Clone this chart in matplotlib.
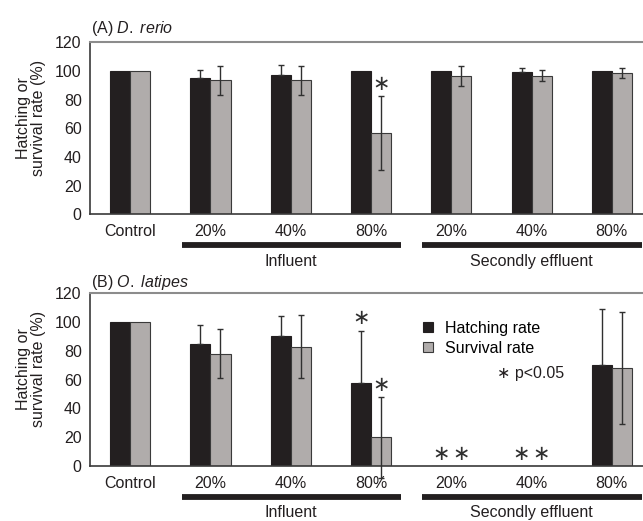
import matplotlib.pyplot as plt
import matplotlib.transforms as mtransforms
import numpy as np

plt.rcParams['font.family'] = ['Liberation Sans', 'DejaVu Sans']
plt.rcParams['mathtext.fontset'] = 'custom'
plt.rcParams['mathtext.rm'] = 'Liberation Sans'
plt.rcParams['mathtext.it'] = 'Liberation Sans:italic'

# Daten
categories = ['Control', '20%', '40%', '80%', '20%', '40%', '80%']
groups = ['Influent', 'Secondly effluent']
group_members = [[1, 2, 3], [4, 5, 6]]

a_hatch = [100, 95, 97, 100, 100, 99, 100]
a_hatch_err = [0, 6, 7.5, 0, 0, 3.3, 0]
a_surv = [100, 93.5, 93.5, 56.7, 96.7, 96.7, 98.4]
a_surv_err = [0, 10, 10, 26, 7, 4, 3.4]
a_sig = [(3, 'surv')]

b_hatch = [100, 85, 90, 57.5, 0, 0, 70]
b_hatch_err = [0, 13, 14, 36.5, 0, 0, 39]
b_surv = [100, 78, 83, 20, 0, 0, 68]
b_surv_err = [0, 17, 22, 28, 0, 0, 39]
b_sig = [(3, 'hatch'), (3, 'surv'), (4, 'hatch'), (4, 'surv'), (5, 'hatch'), (5, 'surv')]

BLACK = '#231f20'
GRAY = '#b0acab'
FS = 11.5

fig = plt.figure(figsize=(6.43, 5.21), dpi=100)
axA = fig.add_axes([90/643, 1-214.3/521, 562/643, 172/521])
axB = fig.add_axes([90/643, 1-466/521, 562/643, 172.7/521])

x = np.arange(len(categories))
w = 0.25


def panel(ax, hatch, hatch_err, surv, surv_err, sig, title, title_y):
    hb = ax.bar(x - w/2, hatch, w, color=BLACK, edgecolor=BLACK, lw=0.8,
                label='Hatching rate', zorder=2)
    sb = ax.bar(x + w/2, surv, w, color=GRAY, edgecolor='#3a3a3a', lw=0.8,
                label='Survival rate', zorder=2)
    # schwarze Balken: nur oberer Fehlerbalken sichtbar
    for off, vals, errs, up_only in [(-w/2, hatch, hatch_err, True),
                                     (w/2, surv, surv_err, False)]:
        vals = np.array(vals, float)
        errs = np.array(errs, float)
        m = errs > 0
        lo = np.zeros(m.sum()) if up_only else errs[m]
        ax.errorbar(x[m] + off, vals[m], yerr=[lo, errs[m]], fmt='none',
                    ecolor='#303030', elinewidth=1.0, capsize=2.2,
                    capthick=1.0, zorder=3, clip_on=False)
    for i, which in sig:
        if which == 'hatch':
            xs, top = i - w/2, hatch[i] + hatch_err[i]
        else:
            xs, top = i + w/2, surv[i] + surv_err[i]
        ax.text(xs, top + 8.5, '\u2217', ha='center', va='center',
                fontsize=15, family='DejaVu Sans', color='#303030')

    ax.set_xlim(-0.5, 6.5)
    ax.set_ylim(0, 120)
    ax.set_yticks(range(0, 121, 20))
    ax.set_xticks(x)
    ax.set_xticklabels(categories)
    ax.tick_params(length=0, labelsize=FS, colors='#231f20')
    ax.tick_params(axis='x', pad=7)
    ax.tick_params(axis='y', pad=6)
    ax.spines['right'].set_visible(False)
    ax.spines['top'].set_color('#8c8c8c')
    ax.spines['top'].set_linewidth(1.5)
    for s in ['left', 'bottom']:
        ax.spines[s].set_color('#3a3a3a')
        ax.spines[s].set_linewidth(1.2)

    ax.set_ylabel('Hatching or\nsurvival rate (%)', fontsize=FS,
                  linespacing=1.0, color='#231f20')
    ax.yaxis.set_label_coords(-0.078, 0.56)

    ax.text(0.002, title_y, title, transform=ax.transAxes, fontsize=FS,
            ha='left', va='center', color='#231f20')

    trans = mtransforms.blended_transform_factory(ax.transData, ax.transAxes)
    for name, mem in zip(groups, group_members):
        ax.plot([mem[0] - 0.36, mem[-1] + 0.37], [-0.178, -0.178],
                color=BLACK, lw=4.2, solid_capstyle='butt',
                transform=trans, clip_on=False)
        ax.text(np.mean(mem), -0.272, name, transform=trans, ha='center',
                va='center', fontsize=FS, color='#231f20')
    return hb, sb


panel(axA, a_hatch, a_hatch_err, a_surv, a_surv_err, a_sig,
      r'(A) $D.$ $rerio$', 1.08)
hb, sb = panel(axB, b_hatch, b_hatch_err, b_surv, b_surv_err, b_sig,
               r'(B) $O.$ $latipes$', 1.065)

axB.legend(handles=[hb, sb], loc='upper left', bbox_to_anchor=(0.5925, 0.84),
           frameon=False, fontsize=FS, handlelength=0.6, handleheight=0.6,
           handletextpad=0.75, labelspacing=0.3, borderpad=0, borderaxespad=0)
axB.text(0.725, 0.535, '\u2217 p<0.05', transform=axB.transAxes, ha='left',
         va='center', fontsize=FS, color='#231f20')

fig.savefig('out.png', dpi=100)
